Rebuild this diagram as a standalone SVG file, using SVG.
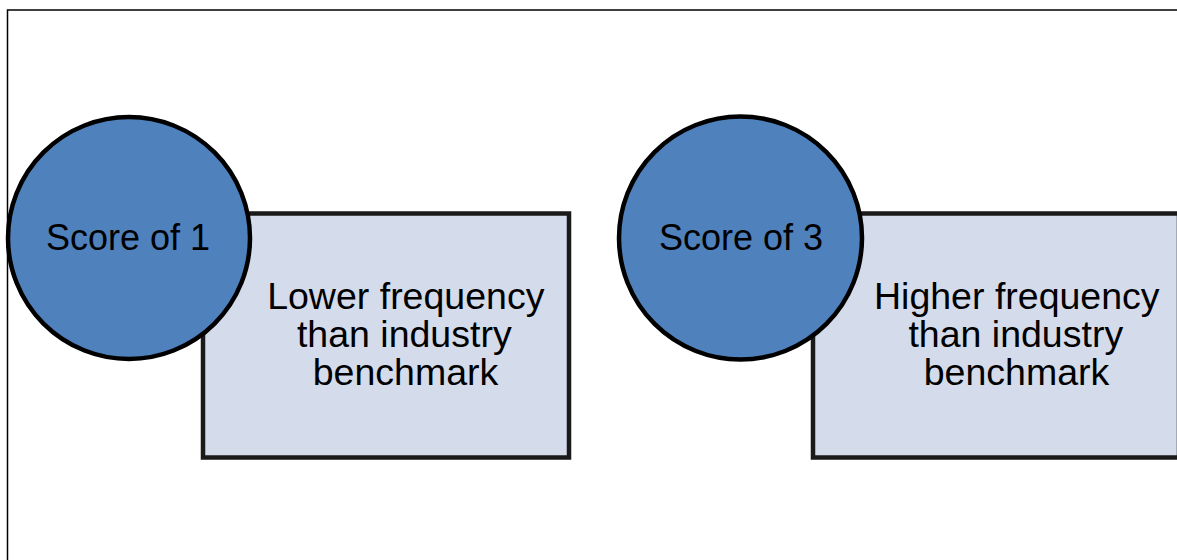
<svg xmlns="http://www.w3.org/2000/svg" width="1177" height="560" viewBox="0 0 1177 560">
  <style>
    .frame { fill: #ffffff; stroke: #000000; stroke-width: 1.5; }
    .box { fill: #d4dbea; stroke: #1a1a1a; stroke-width: 4.5; }
    .badge { fill: #4f81bd; stroke: #000000; stroke-width: 4.5; }
    .label { font-family: "Liberation Sans", Arial, sans-serif; font-size: 36px; fill: #000000; text-anchor: middle; }
    .body { font-size: 37.5px; }
  </style>
  <rect width="1177" height="560" fill="#ffffff"/>
  <!-- page frame -->
  <rect class="frame" x="7.5" y="10" width="1200" height="600"/>

  <g id="connectors"></g>

  <g id="box-low">
    <rect class="box" x="203" y="213.5" width="366" height="244"/>
    <text class="label body">
      <tspan x="411" y="309">Lower frequency</tspan>
      <tspan x="409.5" y="347">than industry</tspan>
      <tspan x="405.5" y="385">benchmark</tspan>
    </text>
  </g>
  <g id="score-1">
    <circle class="badge" cx="129" cy="238" r="121"/>
    <text class="label" x="128" y="250">Score of 1</text>
  </g>

  <g id="box-high">
    <rect class="box" x="813" y="213.5" width="366" height="244"/>
    <text class="label body">
      <tspan x="1022" y="309">Higher frequency</tspan>
      <tspan x="1021" y="347">than industry</tspan>
      <tspan x="1016.5" y="385">benchmark</tspan>
    </text>
  </g>
  <g id="score-3">
    <circle class="badge" cx="740.5" cy="238" r="121.5"/>
    <text class="label" x="741" y="250">Score of 3</text>
  </g>
</svg>
